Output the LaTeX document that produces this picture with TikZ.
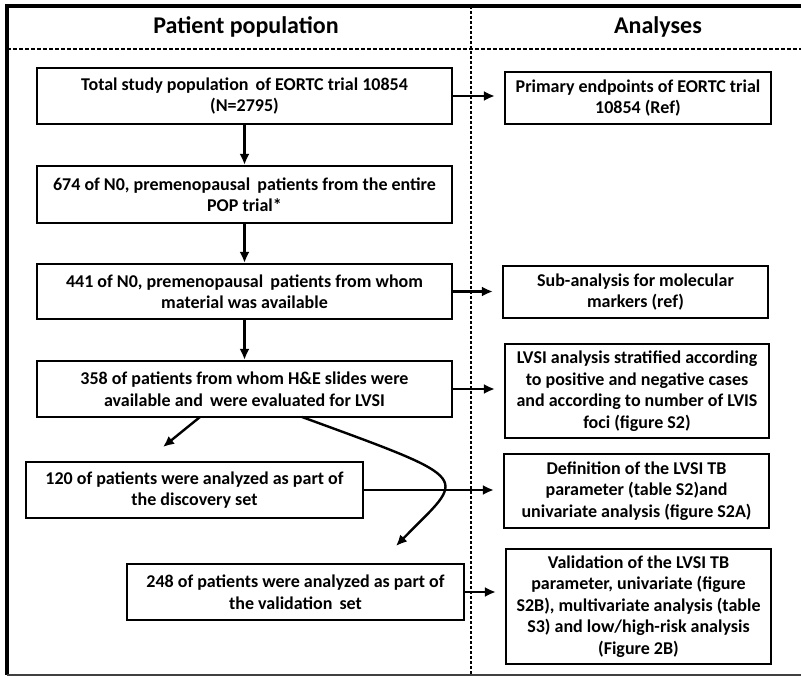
\documentclass[tikz,border=0pt]{standalone}
\usepackage{fontspec}
\setmainfont{Carlito}
\usetikzlibrary{arrows.meta}
\begin{document}
\begin{tikzpicture}[x=1pt,y=-1pt,
  box/.style={draw,line width=2.2pt,align=center,inner sep=2pt,
    font=\bfseries\fontsize{18}{21.5}\selectfont},
  arr/.style={line width=2.4pt,-{Latex[length=11pt,width=10pt]}},
  hdr/.style={font=\bfseries\fontsize{24}{28}\selectfont}]
\useasboundingbox (0,0) rectangle (801,676);
% frame
\draw[line width=3.5pt] (801,6) -- (7,6) -- (7,675);
\draw[line width=2pt,black!75] (7,675) -- (801,675);
\draw[line width=1.2pt,dash pattern=on 4pt off 2pt] (7,49) -- (801,49);
\draw[line width=1.8pt,dash pattern=on 3pt off 2pt] (471,6) -- (471,675);
\node[hdr] (hp) at (246,27) {Patient population};
\node[hdr] (ha) at (658,27) {Analyses};
% left boxes
\node[box,minimum width=415pt,minimum height=56pt] (b1) at (244.5,96) {Total study population\, of EORTC trial 10854\\(N=2795)};
\node[box,minimum width=415pt,minimum height=57pt] (b2) at (244.5,194.5) {674 of N0, premenopausal\, patients from the entire\\POP trial*};
\node[box,minimum width=415pt,minimum height=55pt] (b3) at (244.5,291.5) {441 of N0, premenopausal\, patients from whom\\material was available};
\node[box,minimum width=415pt,minimum height=56pt] (b4) at (244.5,389) {358 of patients from whom H\&E slides were\\available and\, were evaluated for LVSI};
\node[box,minimum width=337pt,minimum height=56pt] (b5) at (194.5,490) {120 of patients were analyzed as part of\\the discovery set};
\node[box,minimum width=337pt,minimum height=56pt] (b6) at (295.5,592) {248 of patients were analyzed as part of\\the validation\, set};
% right boxes
\node[box,minimum width=266pt,minimum height=52pt] (r1) at (638,98) {Primary endpoints of EORTC trial\\10854 (Ref)};
\node[box,minimum width=265pt,minimum height=52pt] (r2) at (635.5,292) {Sub-analysis for molecular\\markers (ref)};
\node[box,minimum width=264pt,minimum height=94pt] (r3) at (637,391) {LVSI analysis stratified according\\to positive and negative cases\\and according to number of LVIS\\foci (figure S2)};
\node[box,minimum width=265pt,minimum height=74pt] (r4) at (636.5,491) {Definition of the LVSI TB\\parameter (table S2)and\\univariate analysis (figure S2A)};
\node[box,minimum width=265pt,minimum height=115pt] (r5) at (638.5,606.5) {Validation of the LVSI TB\\parameter, univariate (figure\\S2B), multivariate analysis (table\\S3) and low/high-risk analysis\\(Figure 2B)};
% vertical arrows
\draw[arr] (b1.south) -- (b2.north);
\draw[arr] (b2.south) -- (b3.north);
\draw[arr] (b3.south) -- (b4.north);
% split arrows
\coordinate (s1) at (200,417);
\coordinate (t1) at (163,447);
\draw[arr] (s1) -- (t1);
\coordinate (s2) at (302,417);
\coordinate (t2) at (396,546);
\draw[arr] (s2) .. controls (480,482) and (465,475) .. (t2);
% horizontal arrows
\draw[arr,shorten >=9pt] (b1.east) -- (b1.east -| r1.west);
\draw[arr,shorten >=9pt] (b3.east) -- (b3.east -| r2.west);
\draw[arr,shorten >=9pt] (b4.east) -- (b4.east -| r3.west);
\draw[arr,shorten >=9pt] (b5.east) -- (b5.east -| r4.west);
\draw[arr,shorten >=9pt] (b6.east) -- (b6.east -| r5.west);
\end{tikzpicture}
\end{document}
